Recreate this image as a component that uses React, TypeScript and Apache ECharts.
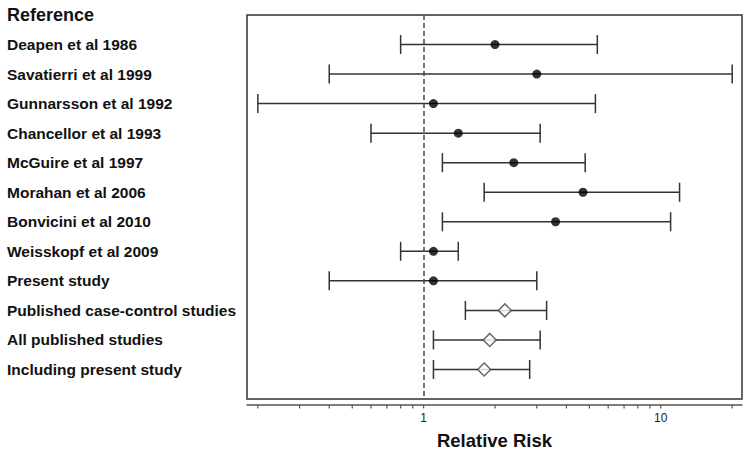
import React, { useEffect, useRef } from "react";
import * as echarts from "echarts";

const categories = [
  "Reference",
  "Deapen et al 1986",
  "Savatierri et al 1999",
  "Gunnarsson et al 1992",
  "Chancellor et al 1993",
  "McGuire et al 1997",
  "Morahan et al 2006",
  "Bonvicini et al 2010",
  "Weisskopf et al 2009",
  "Present study",
  "Published case-control studies",
  "All published studies",
  "Including present study",
  "",
];

const studies = categories.slice(1, 13);
const estimates = [2.0, 3.0, 1.1, 1.4, 2.4, 4.7, 3.6, 1.1, 1.1, 2.2, 1.9, 1.8];
const lower = [0.8, 0.4, 0.2, 0.6, 1.2, 1.8, 1.2, 0.8, 0.4, 1.5, 1.1, 1.1];
const upper = [5.4, 20, 5.3, 3.1, 4.8, 12, 11, 1.4, 3.0, 3.3, 3.1, 2.8];
const isSummary = [false, false, false, false, false, false, false, false, false, true, true, true];

const xTicks = [0.2, 0.3, 0.4, 0.5, 0.6, 0.7, 0.8, 0.9, 1, 2, 3, 4, 5, 6, 7, 8, 9, 10, 20];
const referenceValue = 1;

const FONT = "'Liberation Sans', Arial, sans-serif";

export default function App() {
  const ref = useRef<HTMLDivElement>(null);

  useEffect(() => {
    if (!ref.current) return;
    const chart = echarts.init(ref.current, null, { renderer: "svg" });
    const lastIdx = categories.length - 1;

    const option: any = {
      animation: false,
      backgroundColor: "#ffffff",
      grid: {
        left: 247,
        right: 8,
        top: 15,
        bottom: 57,
        containLabel: false,
        outerBoundsMode: "none",
        show: true,
        borderColor: "#333333",
        borderWidth: 1.5,
        backgroundColor: "transparent",
      },
      xAxis: {
        type: "log",
        logBase: 10,
        min: 0.18,
        max: 22,
        offset: 6,
        splitLine: { show: false },
        axisLine: { show: true, lineStyle: { color: "#555555", width: 1.5 } },
        axisTick: { show: false },
        minorTick: { show: false },
        axisLabel: {
          showMinLabel: false,
          showMaxLabel: false,
          margin: 7,
          color: "#222222",
          fontSize: 12,
          fontFamily: FONT,
        },
        name: "Relative Risk",
        nameLocation: "middle",
        nameGap: 26,
        nameTextStyle: {
          fontSize: 18.5,
          fontWeight: "bold",
          color: "#111111",
          fontFamily: FONT,
        },
      },
      yAxis: {
        type: "category",
        data: categories,
        inverse: true,
        boundaryGap: false,
        axisLine: { show: false },
        axisTick: { show: false },
        splitLine: { show: false },
        axisLabel: {
          interval: 0,
          align: "left",
          margin: 240,
          formatter: (v: string) => (v === "Reference" ? `{h|${v}}` : v ? `{n|${v}}` : ""),
          rich: {
            h: { fontSize: 18, fontWeight: "bold", color: "#111111", fontFamily: FONT },
            n: { fontSize: 15.5, fontWeight: "bold", color: "#111111", fontFamily: FONT },
          },
        },
      },
      series: [
        {
          type: "custom",
          name: "ci",
          encode: { x: [1, 2], y: 0 },
          data: studies.map((s, i) => [s, lower[i], upper[i]]),
          renderItem: (params: any, api: any) => {
            const cat = api.value(0);
            const p1 = api.coord([api.value(1), cat]);
            const p2 = api.coord([api.value(2), cat]);
            const h = 9.5;
            const style = { stroke: "#333333", lineWidth: 1.5 };
            return {
              type: "group",
              children: [
                { type: "line", shape: { x1: p1[0], y1: p1[1], x2: p2[0], y2: p2[1] }, style },
                { type: "line", shape: { x1: p1[0], y1: p1[1] - h, x2: p1[0], y2: p1[1] + h }, style },
                { type: "line", shape: { x1: p2[0], y1: p2[1] - h, x2: p2[0], y2: p2[1] + h }, style },
              ],
            };
          },
          z: 2,
        },
        {
          type: "custom",
          name: "ticks",
          encode: { x: 0, y: 1 },
          clip: false,
          data: xTicks.map((v) => [v, lastIdx]),
          renderItem: (params: any, api: any) => {
            const p = api.coord([api.value(0), api.value(1)]);
            return {
              type: "line",
              shape: { x1: p[0], y1: p[1] + 6, x2: p[0], y2: p[1] + 9.5 },
              style: { stroke: "#555555", lineWidth: 1.2 },
            };
          },
          silent: true,
        },
        {
          type: "scatter",
          name: "studies",
          symbol: "circle",
          symbolSize: 9,
          itemStyle: { color: "#000000" },
          data: studies
            .map((s, i) => ({ s, i }))
            .filter((d) => !isSummary[d.i])
            .map((d) => [estimates[d.i], d.s]),
          markLine: {
            silent: true,
            symbol: ["none", "none"],
            label: { show: false },
            lineStyle: { color: "#444444", width: 1.5, type: [5, 3] },
            data: [{ xAxis: referenceValue }],
          },
          z: 3,
        },
        {
          type: "scatter",
          name: "summary",
          symbol: "diamond",
          symbolSize: 13,
          itemStyle: { color: "#ffffff", borderColor: "#444444", borderWidth: 1.5 },
          data: studies
            .map((s, i) => ({ s, i }))
            .filter((d) => isSummary[d.i])
            .map((d) => [estimates[d.i], d.s]),
          z: 3,
        },
      ],
    };

    chart.setOption(option);
    return () => chart.dispose();
  }, []);

  return (
    <div
      ref={ref}
      style={{ position: "fixed", left: 0, top: 0, width: 750, height: 456, background: "#fff" }}
    />
  );
}
